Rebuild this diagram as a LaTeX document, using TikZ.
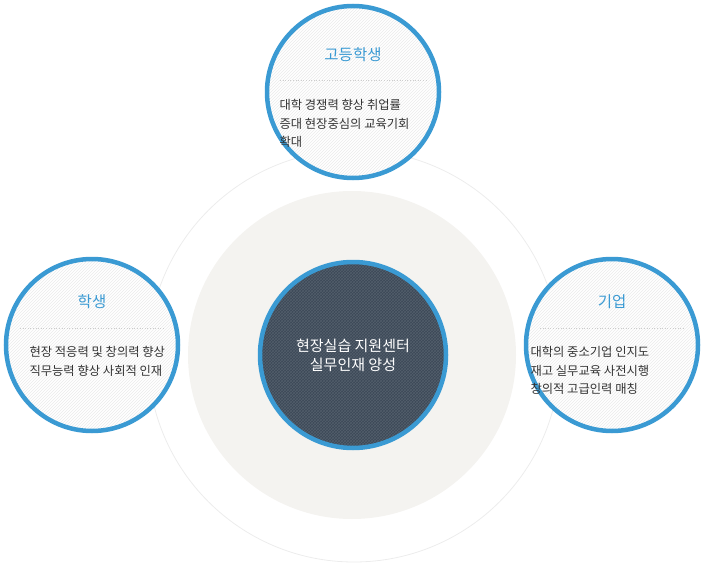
\documentclass[tikz,border=0pt]{standalone}
\usepackage{fontspec}
\setmainfont{Noto Sans CJK KR}
\usetikzlibrary{patterns, positioning}
\definecolor{ringblue}{HTML}{3A9AD3}
\definecolor{darkcore}{HTML}{3B4857}
\definecolor{bodygray}{HTML}{333333}
\definecolor{warmgray}{HTML}{F4F3F0}
\tikzset{
  bubble/.style={circle, draw=ringblue, line width=4.5pt, minimum size=172pt, inner sep=0pt},
  title/.style={text=ringblue, font=\fontsize{15.5}{18}\selectfont},
  body/.style={text=bodygray, align=left, anchor=north west, font=\fontsize{12.3}{18.5}\selectfont},
  sepline/.style={draw=gray!40, dotted, line width=0.6pt}
}
\begin{document}
\begin{tikzpicture}[x=1pt, y=-1pt]
\useasboundingbox (0,0) rectangle (706,564);
% background rings
\draw[gray!15, line width=0.8pt] (354,356) circle (206);
\fill[warmgray] (352,355) circle (164);
% center
\node[bubble, minimum size=186pt, preaction={fill=darkcore}, preaction={pattern=crosshatch, pattern color=white!12!darkcore}] (core) at (353,355) {};
\node[text=white, align=center, font=\fontsize{15}{19}\selectfont] (coretext) at (core) {현장실습 지원센터\\실무인재 양성};
% satellites
\foreach \n/\px/\py in {school/353/92, student/92/345, company/612/345} {
  \node[bubble, preaction={fill=white}, preaction={pattern=north east lines, pattern color=gray!16}] (\n) at (\px,\py) {};
}
% high school
\node[title] (schooltitle) at (353,55) {고등학생};
\draw[sepline] (280,80) -- (426,80);
\node[body] (schooltext) at (276,96) {대학 경쟁력 향상 취업률\\증대 현장중심의 교육기회\\확대};
% student
\node[title] (studenttitle) at (92,302) {학생};
\draw[sepline] (20,328) -- (165,328);
\node[body] (studenttext) at (26,343) {현장 적응력 및 창의력 향상\\직무능력 향상 사회적 인재};
% company
\node[title] (companytitle) at (612,302) {기업};
\draw[sepline] (540,328) -- (685,328);
\node[body] (companytext) at (527,343) {대학의 중소기업 인지도\\재고 실무교육 사전시행\\창의적 고급인력 매칭};
\end{tikzpicture}
\end{document}
